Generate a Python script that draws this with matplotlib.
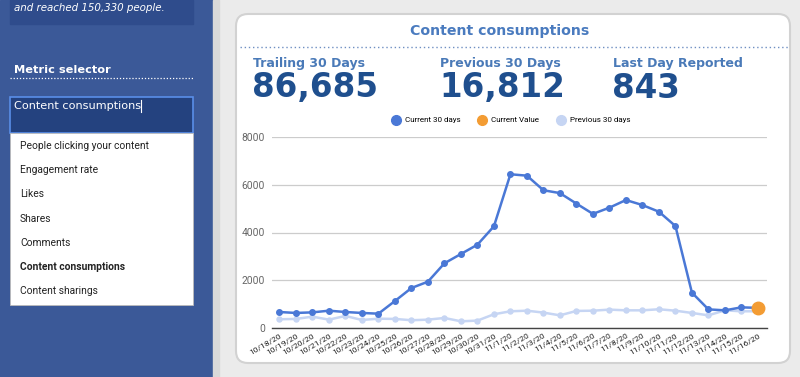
import matplotlib
matplotlib.use("Agg")
import matplotlib.pyplot as plt
from matplotlib.patches import Rectangle, FancyBboxPatch
from matplotlib.lines import Line2D

# chart data
dates = ["10/18/20", "10/19/20", "10/20/20", "10/21/20", "10/22/20", "10/23/20",
         "10/24/20", "10/25/20", "10/26/20", "10/27/20", "10/28/20", "10/29/20",
         "10/30/20", "10/31/20", "11/1/20", "11/2/20", "11/3/20", "11/4/20",
         "11/5/20", "11/6/20", "11/7/20", "11/8/20", "11/9/20", "11/10/20",
         "11/11/20", "11/12/20", "11/13/20", "11/14/20", "11/15/20", "11/16/20"]
current_30 = [670, 630, 655, 725, 670, 630, 600, 1130, 1675, 1940, 2710, 3100,
              3490, 4260, 6440, 6380, 5770, 5650, 5210, 4780, 5040, 5360, 5150,
              4870, 4270, 1480, 780, 740, 865, 843]
previous_30 = [365, 380, 475, 350, 505, 335, 390, 380, 325, 350, 420, 280, 310,
               575, 700, 725, 645, 530, 715, 725, 770, 740, 740, 785, 725, 630,
               530, 740, 700, 700]
current_value = 843

metric_options = ["People clicking your content", "Engagement rate", "Likes",
                  "Shares", "Comments", "Content consumptions", "Content sharings"]
selected_metric = "Content consumptions"
kpi_labels = ["Trailing 30 Days", "Previous 30 Days", "Last Day Reported"]
kpi_values = ["86,685", "16,812", "843"]
y_ticks = [0, 2000, 4000, 6000, 8000]

W, H = 800, 377
fig = plt.figure(figsize=(W / 100, H / 100), dpi=100)

# background canvas in pixel coordinates
bg = fig.add_axes([0, 0, 1, 1])
bg.set_xlim(0, W)
bg.set_ylim(H, 0)
bg.axis("off")
bg.add_patch(Rectangle((0, 0), W, H, color="#ebebeb", zorder=0))

# left panel
bg.add_patch(Rectangle((0, 0), 213, H, color="#3b5998", zorder=1))
bg.add_patch(Rectangle((213, 0), 6, H, color="#d9d9d9", zorder=1))
bg.add_patch(Rectangle((10, 0), 183, 24, color="#2f4c8c", zorder=2))
bg.text(14, 8, "and reached 150,330 people.", color="white", fontsize=7.4,
        style="italic", va="center", zorder=3)
bg.text(14, 70, "Metric selector", color="white", fontsize=8.2,
        fontweight="bold", va="center", zorder=3)
bg.plot([10, 193], [78, 78], color="white", lw=0.9, ls=(0, (1, 1.5)), zorder=3)

# input box + dropdown
bg.add_patch(Rectangle((10, 97), 183, 36, facecolor="#24427f",
                       edgecolor="#5a8ee8", lw=1.2, zorder=2))
bg.text(14, 106, selected_metric, color="white", fontsize=8.1, va="center", zorder=3)
bg.plot([141, 141], [100, 112], color="white", lw=0.8, zorder=3)
bg.add_patch(Rectangle((10, 133), 183, 172, facecolor="white",
                       edgecolor="#bbbbbb", lw=0.6, zorder=2))
for i, opt in enumerate(metric_options):
    bg.text(20, 146 + i * 24.2, opt, fontsize=7.4, family="Roboto", color="#222222",
            fontweight="bold" if opt == selected_metric else "normal",
            va="center", zorder=3)

# card
bg.add_patch(FancyBboxPatch((236, 14), 554, 349, boxstyle="round,pad=0,rounding_size=12",
                            facecolor="white", edgecolor="#d2d2d2", lw=1.5, zorder=2))
bg.text(500, 31, "Content consumptions", color="#4a7bbf", fontsize=10.2,
        fontweight="bold", ha="center", va="center", zorder=3)
bg.plot([240, 788], [47, 47], color="#6f8fc2", lw=1, ls=(0, (1, 2)), zorder=3)
for x, lab, val in zip([253, 440, 613], kpi_labels, kpi_values):
    bg.text(x, 63, lab, color="#4a7ab8", fontsize=9, fontweight="bold",
            va="center", zorder=3)
    bg.text(x - 1, 88, val, color="#1f4f8e", fontsize=23.5, fontweight="bold",
            va="center", zorder=3)

# line chart
ax = fig.add_axes([272 / W, (H - 328) / H, 495 / W, 191 / H])
ax.set_facecolor("none")
xs = list(range(len(dates)))
blue, light, orange = "#4a78d6", "#c6d5f3", "#f39c33"
ax.plot(xs, previous_30, color=light, lw=1.8, marker="o", ms=3.6, zorder=2)
ax.plot(xs, current_30, color=blue, lw=1.8, marker="o", ms=4, zorder=3)
ax.plot([xs[-1]], [current_value], color=orange, marker="o", ms=9, ls="none", zorder=4)

ax.set_xlim(-0.45, len(dates) - 0.45)
ax.set_ylim(0, 8000)
ax.set_yticks(y_ticks)
ax.set_yticklabels([str(t) for t in y_ticks], fontsize=7.4, family="Roboto",
                   color="#666666")
ax.set_xticks(xs)
ax.set_xticklabels(dates, rotation=30, ha="right", rotation_mode="anchor",
                   fontsize=6, family="Roboto", color="#222222")
ax.tick_params(length=0, axis="y", pad=5)
ax.tick_params(length=0, axis="x", pad=3)
ax.grid(axis="y", color="#cccccc", lw=0.9)
ax.set_axisbelow(True)
for s in ["top", "right", "left"]:
    ax.spines[s].set_visible(False)
ax.spines["bottom"].set_color("#444444")
ax.spines["bottom"].set_linewidth(1)

handles = [Line2D([], [], color=c, marker="o", ms=7, ls="none") for c in (blue, orange, light)]
leg = ax.legend(handles, ["Current 30 days", "Current Value", "Previous 30 days"],
                loc="center", bbox_to_anchor=(0.483, 1.089), ncol=3, frameon=False,
                prop={"family": "Roboto", "size": 5.8}, handletextpad=0.6,
                columnspacing=2.2, handlelength=1)

fig.savefig("out.png", dpi=100)
